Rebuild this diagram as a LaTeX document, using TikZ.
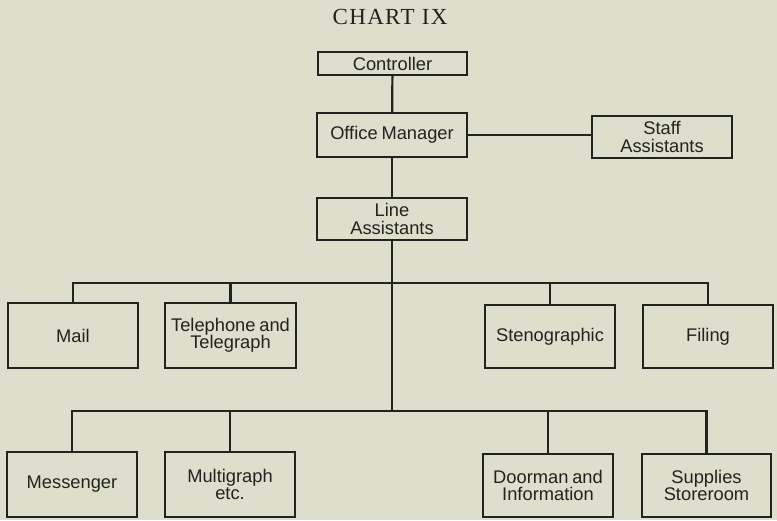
\documentclass[tikz,border=0pt]{standalone}
\usepackage{fontspec}
\newfontfamily\boxfont[WordSpace=0.75]{Liberation Sans}
\newfontfamily\titlefont[LetterSpace=6]{Liberation Serif}
\definecolor{paper}{RGB}{221,222,204}
\definecolor{ink}{RGB}{34,34,30}
\begin{document}
\begin{tikzpicture}[x=1pt,y=-1pt,
  box/.style={draw=ink, line width=2.2pt, inner sep=0pt, align=center,
    text=ink, font=\boxfont\fontsize{18.3}{17.5}\selectfont},
  conn/.style={draw=ink, line width=2.2pt},
  every node/.append style={anchor=center}]
\fill[paper] (0,0) rectangle (777,520);
\useasboundingbox (0,0) rectangle (777,520);
\node[text=ink, font=\titlefont\fontsize{23}{26}\selectfont] (title) at (390,17) {CHART IX};
\node[box, minimum width=149pt, minimum height=23pt] (ctrl) at (392.5,63.5) {Controller};
\node[box, minimum width=150pt, minimum height=44pt] (om) at (392,135) {Office Manager};
\node[box, minimum width=140pt, minimum height=42pt] (staff) at (662,137) {Staff\\Assistants};
\node[box, minimum width=150pt, minimum height=42pt] (la) at (392,219) {Line\\Assistants};
\node[box, minimum width=130pt, minimum height=65pt] (mail) at (73,335.5) {Mail};
\node[box, minimum width=131pt, minimum height=65pt] (tel) at (230.5,335.5) {Telephone and\\Telegraph};
\node[box, minimum width=130pt, minimum height=63pt] (steno) at (550,336.5) {Stenographic};
\node[box, minimum width=130pt, minimum height=63pt] (filing) at (708,336.5) {Filing};
\node[box, minimum width=130pt, minimum height=65pt] (mess) at (72,484.5) {Messenger};
\node[box, minimum width=130pt, minimum height=65pt] (multi) at (230,484.5) {Multigraph\\etc.};
\node[box, minimum width=130pt, minimum height=63pt] (door) at (548,485.5) {Doorman and\\Information};
\node[box, minimum width=129pt, minimum height=63pt] (supp) at (706.5,485.5) {Supplies\\Storeroom};
\coordinate (bus1) at (la.south |- 0,283);
\coordinate (bus2) at (la.south |- 0,411);
\draw[conn] (ctrl) -- (om);
\draw[conn] (om) -- (la);
\draw[conn] (om.east) -- (om.east -| staff.west);
\draw[conn] (la.south) -- (bus2);
\draw[conn] (mail.north) |- (bus1) -| (filing.north);
\draw[conn] (tel.north) -- (tel.north |- bus1);
\draw[conn] (steno.north) -- (steno.north |- bus1);
\draw[conn] (mess.north) |- (bus2) -| (supp.north);
\draw[conn] (multi.north) -- (multi.north |- bus2);
\draw[conn] (door.north) -- (door.north |- bus2);
\end{tikzpicture}
\end{document}
